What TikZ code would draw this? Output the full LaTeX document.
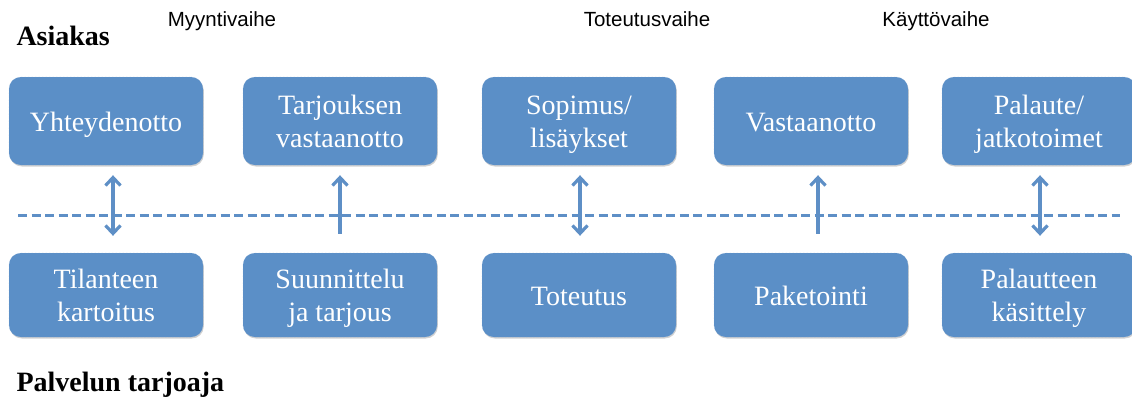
\documentclass[tikz,border=0pt]{standalone}
\usepackage{fontspec}
\setmainfont{Liberation Serif}
\newfontfamily\labelfont{Liberation Sans}
\usetikzlibrary{shadows,arrows.meta}
\definecolor{boxblue}{HTML}{5B8FC7}
\definecolor{linkblue}{HTML}{5E8FC6}
\tikzset{
  barb/.tip={Straight Barb[length=8pt,width=15pt,line width=3.2pt]}
}
% centred box text, set a little below the optical centre of its box
\newcommand{\stagetext}[1]{\raisebox{-3.5pt}[\height][\depth]{\begin{tabular}{@{}c@{}}#1\end{tabular}}}
\begin{document}
\begin{tikzpicture}[x=1pt,y=-1pt,
  stage/.style={draw=boxblue!85!white, densely dotted, line width=0.4pt, fill=boxblue,
    rounded corners=12pt, minimum width=194pt, minimum height=88pt,
    text=white, font=\fontsize{28}{33}\selectfont,
    drop shadow={shadow xshift=0.8pt, shadow yshift=-1.5pt, opacity=0.3, fill=black!60}},
  phase/.style={font=\labelfont\fontsize{20.5}{22}\selectfont, anchor=base},
  role/.style={font=\bfseries\fontsize{28}{30}\selectfont, anchor=base west},
  link/.style={linkblue, line width=3.5pt, -barb},
  duplex/.style={linkblue, line width=3.5pt, barb-barb}
]
\useasboundingbox (0,0) rectangle (1132,405);

% phase headings and roles
\node[phase] (p1) at (222,26) {Myyntivaihe};
\node[phase] (p2) at (647,26) {Toteutusvaihe};
\node[phase] (p3) at (936,26) {Käyttövaihe};
\node[role] (cust) at (13,45) {Asiakas};
\node[role] (prov) at (13,391) {Palvelun tarjoaja};

% customer-side stages
\node[stage] (a1) at (106,121) {\stagetext{Yhteydenotto}};
\node[stage] (a2) at (340,121) {\stagetext{Tarjouksen\\vastaanotto}};
\node[stage] (a3) at (579,121) {\stagetext{Sopimus/\\lisäykset}};
\node[stage] (a4) at (811,121) {\stagetext{Vastaanotto}};
\node[stage] (a5) at (1039,121) {\stagetext{Palaute/\\jatkotoimet}};

% provider-side stages
\node[stage, minimum height=84pt] (b1) at (106,295) {\stagetext{Tilanteen\\kartoitus}};
\node[stage, minimum height=84pt] (b2) at (340,295) {\stagetext{Suunnittelu\\ja tarjous}};
\node[stage, minimum height=84pt] (b3) at (579,295) {\stagetext{Toteutus}};
\node[stage, minimum height=84pt] (b4) at (811,295) {\stagetext{Paketointi}};
\node[stage, minimum height=84pt] (b5) at (1039,295) {\stagetext{Palautteen\\käsittely}};

% line of visibility
\coordinate (v0) at (18,215);
\coordinate (v1) at (1120,215);
\draw[linkblue, line width=3pt, dash pattern=on 9pt off 4.5pt] (v0) -- (v1);

% interactions across the line
\draw[duplex] ([xshift=7pt,yshift=-10pt]a1.south) -- ([xshift=7pt,yshift=17pt]b1.north);
\draw[link]   ([yshift=19pt]b2.north) -- ([yshift=-10pt]a2.south);
\draw[duplex] ([xshift=1pt,yshift=-10pt]a3.south) -- ([xshift=1pt,yshift=17pt]b3.north);
\draw[link]   ([xshift=7pt,yshift=19pt]b4.north) -- ([xshift=7pt,yshift=-10pt]a4.south);
\draw[duplex] ([xshift=1pt,yshift=-10pt]a5.south) -- ([xshift=1pt,yshift=17pt]b5.north);
\end{tikzpicture}
\end{document}
